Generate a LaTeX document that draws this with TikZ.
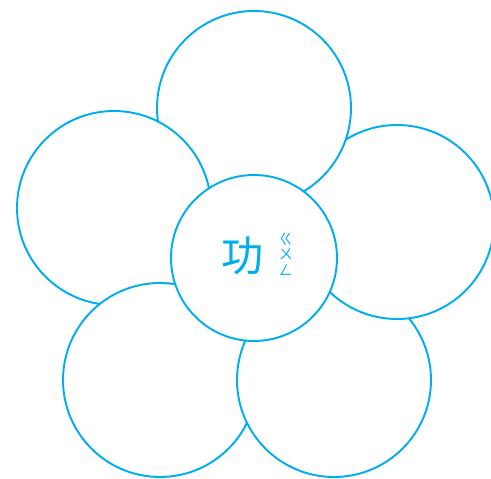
\documentclass[tikz,border=0pt]{standalone}
\usepackage{fontspec}
\newfontfamily\cjkfont{Noto Sans CJK TC}
\definecolor{cPetal}{HTML}{00AEEF}
\tikzset{
  petal/.style={draw=cPetal,line width=1.1pt,fill=white},
  glyph/.style={text=cPetal,inner sep=0pt},
}

\begin{document}
\begin{tikzpicture}[x=0.02cm,y=-0.02cm]
\useasboundingbox (0,0) rectangle (491,479);
\coordinate (rt) at (397,222);
\coordinate (tp) at (254,108);
\coordinate (lf) at (114,208);
\coordinate (bl) at (160,380);
\coordinate (br) at (334,380);
\coordinate (ct) at (254,258);
% petals, each one laid over the one before
\foreach \p in {rt,tp,lf,bl,br}
  \draw[petal] (\p) circle[radius=97];
% close the ring: right petal over the bottom-right one
\begin{scope}
  \clip (br) circle[radius=99];
  \draw[petal] (rt) circle[radius=97];
\end{scope}
\draw[petal] (ct) circle[radius=83];
\node[glyph,font=\cjkfont\fontsize{24}{24}\selectfont] (gong) at (243,256) {功};
\node[glyph,anchor=west,align=center,xshift=8pt,yshift=1pt,
  font=\cjkfont\fontsize{8}{9}\selectfont] (zhuyin) at (gong.east) {ㄍ\\ㄨ\\ㄥ};
\end{tikzpicture}
\end{document}
